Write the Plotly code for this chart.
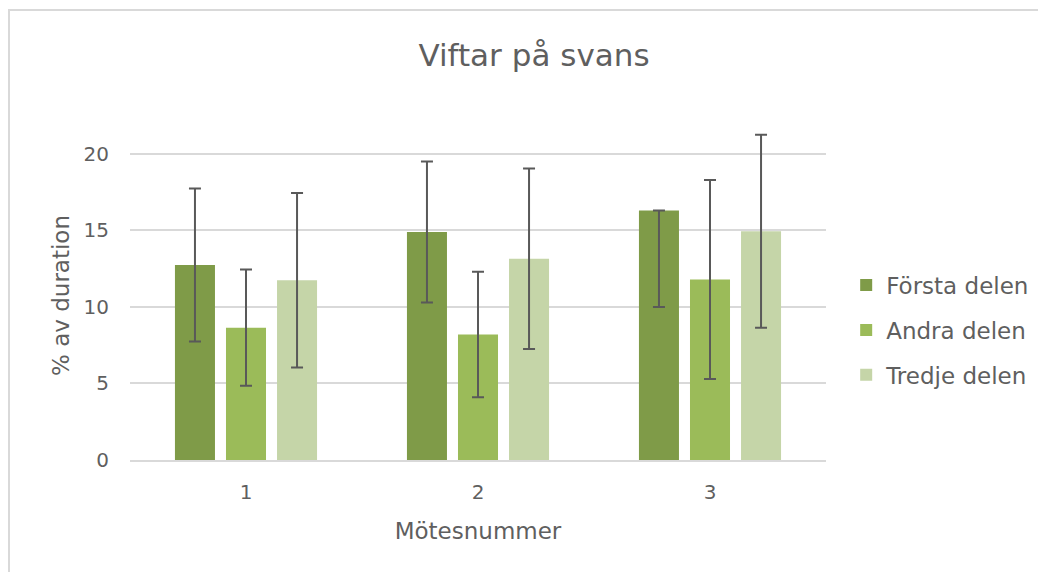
import plotly.graph_objects as go

# data
meetings = ["1", "2", "3"]
series_names = ["Första delen", "Andra delen", "Tredje delen"]
forsta = [12.75, 14.9, 16.3]
andra = [8.65, 8.2, 11.8]
tredje = [11.75, 13.15, 14.95]
forsta_err_plus = [5.0, 4.6, 0.0]
forsta_err_minus = [5.0, 4.6, 6.3]
andra_err = [3.8, 4.1, 6.5]
tredje_err = [5.7, 5.9, 6.3]

colors = ["#7F9B48", "#9BBB59", "#C5D5A8"]
text_color = "#5F5F5F"
font_family = "'DejaVu Sans', sans-serif"

values = [forsta, andra, tredje]
errors = [
    dict(type="data", symmetric=False, array=forsta_err_plus, arrayminus=forsta_err_minus),
    dict(type="data", array=andra_err),
    dict(type="data", array=tredje_err),
]

fig = go.Figure()
for i, name in enumerate(series_names):
    err = errors[i]
    err.update(color="#595959", thickness=2, width=6)
    fig.add_trace(go.Bar(
        x=meetings, y=values[i], name=name,
        marker=dict(color=colors[i], line_width=0),
        error_y=err,
        legendgroup=name,
    ))

# the page adds an 8px body margin, so the layout is shifted by 8px
fig.update_layout(
    width=1046, height=572,
    barmode="group", bargap=0.34, bargroupgap=0.216,
    plot_bgcolor="white", paper_bgcolor="white",
    margin=dict(l=122, r=228, t=123, b=120),
    font=dict(family=font_family, color=text_color, size=20),
    title=dict(text="Viftar på svans", xref="container", x=526 / 1046, xanchor="center",
               y=1 - 47 / 572, yanchor="middle",
               font=dict(size=31, color=text_color, family=font_family)),
    legend=dict(x=1.029, xanchor="left", y=0.395, yanchor="middle",
                font=dict(size=23, color=text_color), tracegroupgap=12,
                itemwidth=30),
    showlegend=True,
)
fig.update_xaxes(
    showgrid=False, showline=True, linecolor="#D9D9D9", linewidth=2,
    ticks="outside", ticklen=13, tickcolor="white",
    title=dict(text="Mötesnummer", standoff=20, font=dict(size=23)),
    tickfont=dict(size=20),
)
fig.update_yaxes(
    range=[0, 21.5], tickvals=[0, 5, 10, 15, 20],
    showgrid=True, gridcolor="#D9D9D9", gridwidth=2, zeroline=False,
    ticks="outside", ticklen=16, tickcolor="white",
    title=dict(text="% av duration", standoff=7, font=dict(size=23)),
    tickfont=dict(size=20),
)
# outer chart border (left and top edges visible in the reference)
fig.add_shape(type="rect", xref="paper", yref="paper",
              x0=(1 - 122) / 696, x1=1.4, y0=-0.5, y1=(452 - 2) / 329,
              line=dict(color="#D9D9D9", width=2), fillcolor="rgba(0,0,0,0)",
              layer="below")

fig.write_html("out.html")
